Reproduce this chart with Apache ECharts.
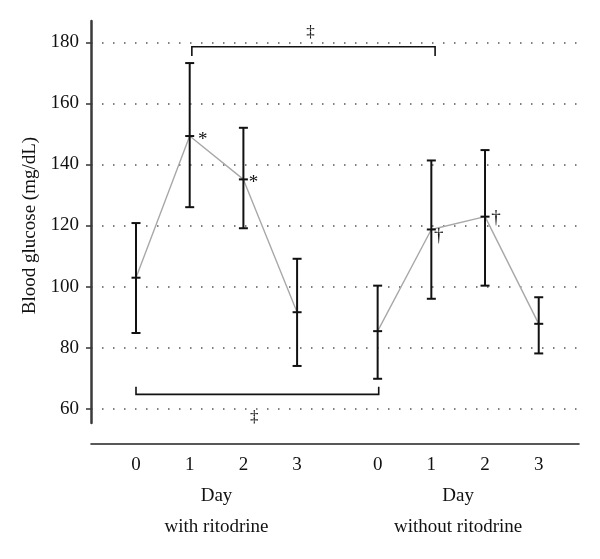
<!DOCTYPE html>
<html><head><meta charset="utf-8">
<script src="https://cdn.jsdelivr.net/npm/echarts@6/dist/echarts.min.js"></script>
<style>html,body{margin:0;padding:0;background:#fff}#c{width:600px;height:559px}</style>
</head><body><div id="c"></div>
<script>
// ---- data ----
const dayLabels = ['0', '1', '2', '3'];
const groupNames = ['with ritodrine', 'without ritodrine'];
const axisTitle = 'Day';
const yName = 'Blood glucose (mg/dL)';
const xWith = [0, 1, 2, 3];
const xWithout = [4.5, 5.5, 6.5, 7.5];
const meanWith = [102.9, 149.3, 135.1, 91.6];
const lowWith = [84.8, 126.0, 119.1, 74.0];
const highWith = [120.8, 173.2, 152.0, 109.1];
const meanWithout = [85.4, 118.7, 122.9, 87.8];
const lowWithout = [69.8, 96.0, 100.3, 78.1];
const highWithout = [100.3, 141.3, 144.7, 96.5];
const yTicks = [60, 80, 100, 120, 140, 160, 180];
// significance marks next to means
const annX = [1, 2, 5.5, 6.5];
const annY = [149.3, 135.1, 118.7, 122.9];
const annText = ['*', '*', '\u2020', '\u2020'];
// brackets
const brFrom = [1.04, 0];
const brTo = [5.57, 4.52];
const brY = [178.56, 64.7];
const brEndY = [175.5, 67.2];
const brLabelX = [3.25, 2.2];
const brLabelY = [183.05, 57.2];
const brText = ['\u2021', '\u2021'];

// ---- styling ----
const FONT = '"Liberation Serif", "DejaVu Serif", serif';
const annOffset = [[13, 4], [10, 4], [7.5, 7], [11, 1]];

const chart = echarts.init(document.getElementById('c'), null, {renderer: 'canvas'});

const errData = [];
xWith.forEach((x, i) => errData.push([x, meanWith[i], lowWith[i], highWith[i]]));
xWithout.forEach((x, i) => errData.push([x, meanWithout[i], lowWithout[i], highWithout[i]]));

const center1 = (xWith[0] + xWith[xWith.length - 1]) / 2;
const center2 = (xWithout[0] + xWithout[xWithout.length - 1]) / 2;
const labelVals = xWith.concat(xWithout, [center1, center2]);

function fmtX(v) {
  let i = xWith.indexOf(v);
  if (i >= 0) return dayLabels[i];
  i = xWithout.indexOf(v);
  if (i >= 0) return dayLabels[i];
  if (Math.abs(v - center1) < 1e-6) return '\n' + axisTitle + '\n' + groupNames[0];
  if (Math.abs(v - center2) < 1e-6) return '\n' + axisTitle + '\n' + groupNames[1];
  return '';
}

const black = '#111';
function errRender(params, api) {
  const x = api.value(0), m = api.value(1), lo = api.value(2), hi = api.value(3);
  const pm = api.coord([x, m]), pl = api.coord([x, lo]), ph = api.coord([x, hi]);
  const w = 4.5;
  const style = {stroke: black, lineWidth: 2};
  return {type: 'group', children: [
    {type: 'line', shape: {x1: pl[0], y1: pl[1], x2: ph[0], y2: ph[1]}, style},
    {type: 'line', shape: {x1: pl[0] - w, y1: pl[1], x2: pl[0] + w, y2: pl[1]}, style},
    {type: 'line', shape: {x1: ph[0] - w, y1: ph[1], x2: ph[0] + w, y2: ph[1]}, style},
    {type: 'line', shape: {x1: pm[0] - w, y1: pm[1], x2: pm[0] + w, y2: pm[1]}, style}
  ]};
}

function annRender(params, api) {
  const i = params.dataIndex;
  const p = api.coord([api.value(0), api.value(1)]);
  const o = annOffset[i];
  return {type: 'text', x: p[0] + o[0], y: p[1] + o[1],
    style: {text: annText[i], font: '19px ' + FONT, fill: black, align: 'center', verticalAlign: 'middle'}};
}

function brRender(params, api) {
  const i = params.dataIndex;
  const a = api.coord([brFrom[i], brY[i]]);
  const b = api.coord([brTo[i], brY[i]]);
  const ae = api.coord([brFrom[i], brEndY[i]]);
  const be = api.coord([brTo[i], brEndY[i]]);
  const t = api.coord([brLabelX[i], brLabelY[i]]);
  const style = {stroke: black, lineWidth: 1.6};
  return {type: 'group', children: [
    {type: 'polyline', shape: {points: [ae, a, b, be]}, style: Object.assign({fill: null}, style)},
    {type: 'text', x: t[0], y: t[1], style: {text: brText[i], font: '17px ' + FONT, fill: black, align: 'center', verticalAlign: 'middle'}}
  ]};
}

const option = {
  backgroundColor: '#fff',
  animation: false,
  grid: [
    {left: 91, right: 21, top: 42.3, bottom: 150.3, outerBoundsMode: 'none'},
    {left: 91, right: 21, top: 21, bottom: 136, outerBoundsMode: 'none'}
  ],
  xAxis: [
    {type: 'value', gridIndex: 0, min: -0.838, max: 8.25, position: 'bottom', offset: 35.3,
     axisLine: {show: true, onZero: false, lineStyle: {color: '#222', width: 1.6}},
     axisTick: {show: false}, splitLine: {show: false},
     axisLabel: {customValues: labelVals, formatter: fmtX, margin: 6, color: '#111',
       fontFamily: FONT, fontSize: 19, lineHeight: 31, verticalAlign: 'top', showMinLabel: true, showMaxLabel: true}},
    {type: 'value', gridIndex: 1, min: -0.838, max: 8.25, show: false, axisLine: {onZero: false}}
  ],
  yAxis: [
    {type: 'value', gridIndex: 0, min: yTicks[0], max: yTicks[yTicks.length - 1], interval: 20,
     position: 'left',
     name: yName, nameLocation: 'middle', nameGap: 44,
     nameTextStyle: {fontFamily: FONT, fontSize: 19, color: '#111'},
     axisLine: {show: false, onZero: false},
     axisTick: {show: true, length: 5, lineStyle: {color: '#333', width: 1.5}},
     axisLabel: {margin: 12, color: '#111', fontFamily: FONT, fontSize: 19},
     splitLine: {show: true, lineStyle: {color: '#555', width: 1.5, type: [1.5, 9.5]}}},
    {type: 'value', gridIndex: 1, min: 55.3, max: 187, position: 'left',
     axisLine: {show: true, onZero: false, lineStyle: {color: '#3a3a3a', width: 2.5}},
     axisTick: {show: false}, axisLabel: {show: false}, splitLine: {show: false}}
  ],
  series: [
    {type: 'line', xAxisIndex: 0, yAxisIndex: 0, data: xWith.map((x, i) => [x, meanWith[i]]),
     showSymbol: false, symbol: 'none', lineStyle: {color: '#a8a8a8', width: 1.4}, z: 1},
    {type: 'line', xAxisIndex: 0, yAxisIndex: 0, data: xWithout.map((x, i) => [x, meanWithout[i]]),
     showSymbol: false, symbol: 'none', lineStyle: {color: '#a8a8a8', width: 1.4}, z: 1},
    {type: 'custom', xAxisIndex: 0, yAxisIndex: 0, data: errData, renderItem: errRender, clip: false, z: 3},
    {type: 'custom', xAxisIndex: 0, yAxisIndex: 0, data: annX.map((x, i) => [x, annY[i]]), renderItem: annRender, clip: false, z: 4},
    {type: 'custom', xAxisIndex: 0, yAxisIndex: 0, data: brFrom.map((x, i) => [x, brY[i]]), renderItem: brRender, clip: false, z: 4}
  ]
};
chart.setOption(option);
</script>
</body></html>
